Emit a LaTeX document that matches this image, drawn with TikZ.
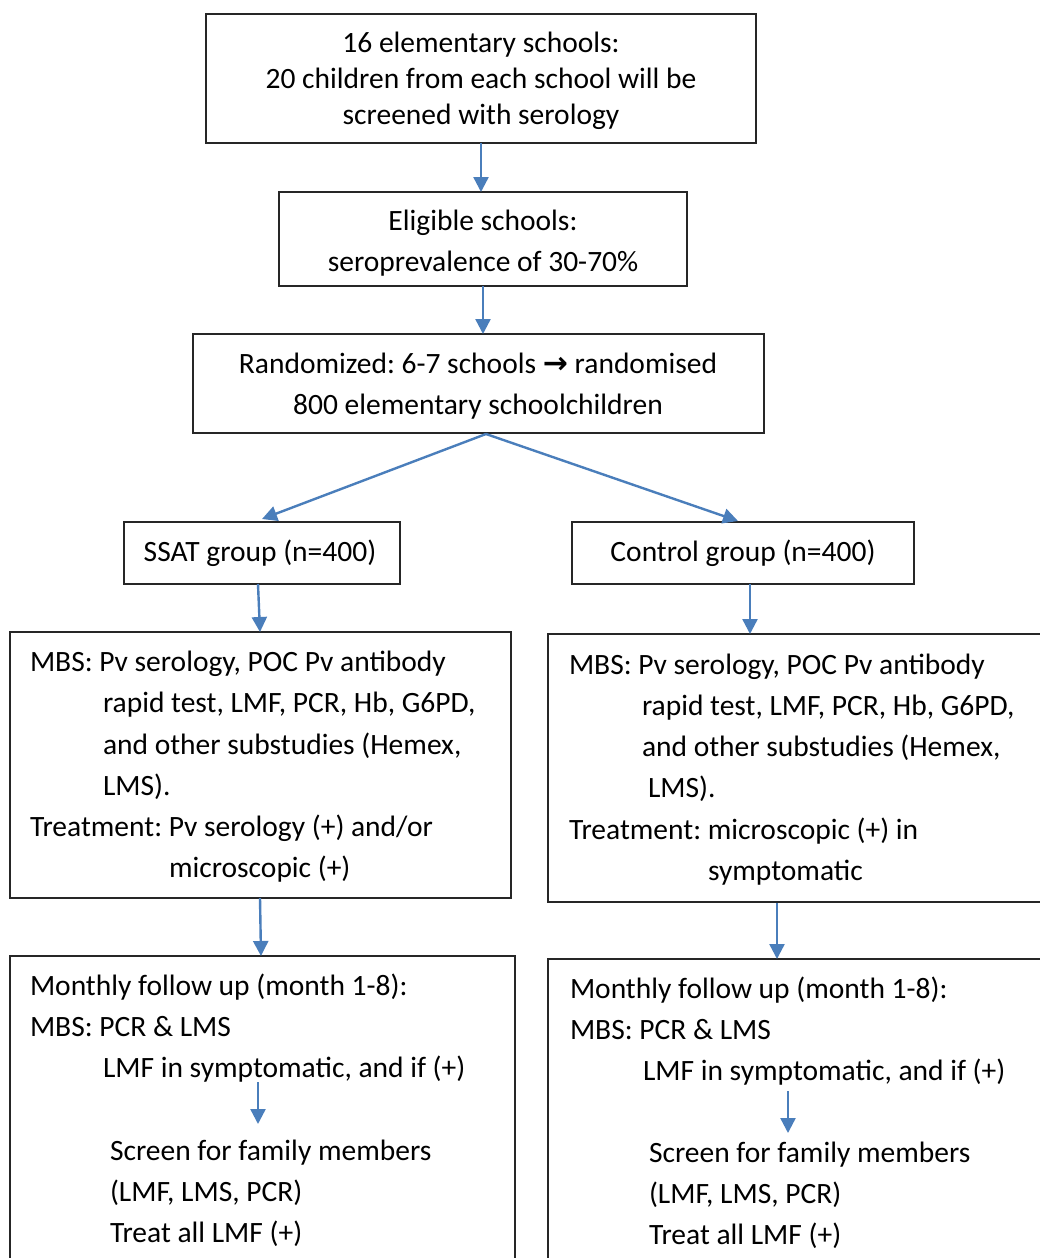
\documentclass[tikz,border=0pt]{standalone}
\usepackage{fontspec}
\setmainfont{Carlito}
\newfontfamily\arrfont{DejaVu Sans}
\usetikzlibrary{arrows.meta}
\definecolor{arrblue}{HTML}{4A7EBB}
\frenchspacing
\begin{document}
\begin{tikzpicture}[x=1pt,y=-1pt,
  box/.style={draw=black!85,line width=1.2pt,rectangle,anchor=north west,inner sep=0pt,outer sep=0pt},
  txt/.style={font=\fontsize{29.5}{35}\selectfont,inner sep=0pt,outer sep=0pt},
  tl/.style={txt,anchor=base west},
  tc/.style={txt,anchor=base},
  arr/.style={draw=arrblue,line width=2.4pt,-{Triangle[width=15pt,length=15pt]}}]
\useasboundingbox (0,0) rectangle (1040,1258);
\clip (0,0) rectangle (1040,1258);
\fill[white] (0,0) rectangle (1040,1258);
% boxes
\node[box,minimum width=550pt,minimum height=129pt] (b1) at (206,14) {};
\node[box,minimum width=408pt,minimum height=94pt] (b2) at (279,192) {};
\node[box,minimum width=571pt,minimum height=99pt] (b3) at (193,334) {};
\node[box,minimum width=276pt,minimum height=62pt] (ssat) at (124,522) {};
\node[box,minimum width=342pt,minimum height=62pt] (ctrl) at (572,522) {};
\node[box,minimum width=501pt,minimum height=266pt] (m1) at (10,632) {};
\node[box,minimum width=520pt,minimum height=268pt] (m2) at (548,634) {};
\node[box,minimum width=505pt,minimum height=340pt] (f1) at (10,956) {};
\node[box,minimum width=520pt,minimum height=340pt] (f2) at (548,959) {};
% texts
\node[tc] (t11) at (481,52.5) {16 elementary schools:};
\node[tc] (t12) at (481,88.5) {20 children from each school will be};
\node[tc] (t13) at (481,124.5) {screened with serology};
\node[tc] (t21) at (483,230.5) {Eligible schools:};
\node[tc] (t22) at (483,271.5) {seroprevalence of 30-70\%};
\node[tc] (t31) at (478,373.5) {Randomized: 6-7 schools {\arrfont\bfseries\fontsize{30}{30}\selectfont →} randomised};
\node[tc] (t32) at (478,414.5) {800 elementary schoolchildren};
\node[tc] (t41) at (260,561.5) {SSAT group (n=400)};
\node[tc] (t51) at (743,561.5) {Control group (n=400)};
% left MBS
\node[tl] (l1) at (30,671.5) {MBS: Pv serology, POC Pv antibody};
\node[tl] (l2) at (103,712.5) {rapid test, LMF, PCR, Hb, G6PD,};
\node[tl] (l3) at (103,754.5) {and other substudies (Hemex,};
\node[tl] (l4) at (103,795.5) {LMS).};
\node[tl] (l5) at (30,836.5) {Treatment: Pv serology (+) and/or};
\node[tl] (l6) at (169,877.5) {microscopic (+)};
% right MBS
\node[tl] (r1) at (569,674.5) {MBS: Pv serology, POC Pv antibody};
\node[tl] (r2) at (642,715.5) {rapid test, LMF, PCR, Hb, G6PD,};
\node[tl] (r3) at (642,756.5) {and other substudies (Hemex,};
\node[tl] (r4) at (648,797.5) {LMS).};
\node[tl] (r5) at (569,839.5) {Treatment: microscopic (+) in};
\node[tl] (r6) at (708,880.5) {symptomatic};
% left follow-up
\node[tl] (lf1) at (30,995.5) {Monthly follow up (month 1-8):};
\node[tl] (lf2) at (30,1036.5) {MBS: PCR \& LMS};
\node[tl] (lf3) at (103,1077.5) {LMF in symptomatic, and if (+)};
\node[tl] (lf4) at (110,1160.5) {Screen for family members};
\node[tl] (lf5) at (110,1201.5) {(LMF, LMS, PCR)};
\node[tl] (lf6) at (110,1242.5) {Treat all LMF (+)};
% right follow-up
\node[tl] (rf1) at (570,998.5) {Monthly follow up (month 1-8):};
\node[tl] (rf2) at (570,1039.5) {MBS: PCR \& LMS};
\node[tl] (rf3) at (643,1080.5) {LMF in symptomatic, and if (+)};
\node[tl] (rf4) at (649,1162.5) {Screen for family members};
\node[tl] (rf5) at (649,1203.5) {(LMF, LMS, PCR)};
\node[tl] (rf6) at (649,1244.5) {Treat all LMF (+)};
% connector coordinates
\coordinate (s3) at (486,434);
\coordinate (tipL) at (262,519);
\coordinate (tipR) at (738,521);
\coordinate (a1) at (258,584);
\coordinate (a2) at (260,632);
\coordinate (c1) at (750,584);
\coordinate (c2) at (750,634);
\coordinate (d1) at (260,898);
\coordinate (d2) at (261,956);
\coordinate (e1) at (777,903);
\coordinate (e2) at (777,959);
\coordinate (la1) at (258,1082);
\coordinate (la2) at (258,1124);
\coordinate (ra1) at (788,1091);
\coordinate (ra2) at (788,1133);
% connectors
\draw[arr] (b1.south) -- (b1.south |- b2.north);
\draw[arr] (b2.south) -- (b2.south |- b3.north);
\draw[arr] (s3) -- (tipL);
\draw[arr] (s3) -- (tipR);
\draw[arr] (a1) -- (a2);
\draw[arr] (c1) -- (c2);
\draw[arr] (d1) -- (d2);
\draw[arr] (e1) -- (e2);
\draw[arr] (la1) -- (la2);
\draw[arr] (ra1) -- (ra2);
\end{tikzpicture}
\end{document}
